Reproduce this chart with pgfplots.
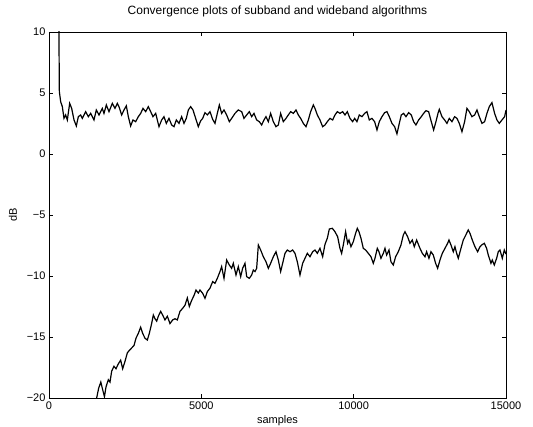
\documentclass[border=0pt]{standalone}
\usepackage{pgfplots}
\pgfplotsset{compat=1.18}
\usepackage{fontspec}
\setmainfont{Liberation Sans}
\begin{document}
\begin{tikzpicture}
\useasboundingbox (-49bp,-29bp) rectangle (484bp,398bp);
\begin{axis}[
  at={(0,0)}, anchor=south west,
  scale only axis, width=457bp, height=366bp,
  xmin=0, xmax=15000, ymin=-20, ymax=10,
  scaled x ticks=false, scaled y ticks=false,
  xtick={0,5000,10000,15000},
  xticklabels={0,5000,10000,15000},
  ytick={-20,-15,-10,-5,0,5,10},
  yticklabels={−20,−15,−10,−5,0,5,10},
  tick align=inside, xtick pos=both, ytick pos=both,
  major tick length=4bp,
  tick style={black, line width=0.6bp},
  axis line style={black, line width=0.8bp},
  ticklabel style={font=\fontsize{11bp}{13bp}\selectfont},
  label style={font=\fontsize{11bp}{13bp}\selectfont},
  title={Convergence plots of subband and wideband algorithms},
  title style={font=\fontsize{12bp}{14bp}\selectfont, at={(0.5,1)}, anchor=base, yshift=12bp},
  xlabel={samples},
  xlabel style={at={(axis description cs:0.5,0)}, anchor=base, yshift=-25bp},
  ylabel={dB},
  ylabel style={at={(axis description cs:-0.079,0.5)}, anchor=center},
]
\addplot[black, line width=1.2bp] coordinates {
(0,25) (320,12) (340,5.11) (383,4.29) (438,3.88) (492,2.92) (547,3.20) (602,2.79)
(678,4.15) (744,3.74) (821,2.79) (897,2.30) (963,3.06) (1039,3.20) (1094,2.92)
(1203,3.47) (1291,3.06) (1368,3.33) (1477,2.79) (1553,3.61) (1641,3.20) (1750,3.74)
(1805,3.33) (1882,4.02) (1969,3.47) (2079,4.15) (2166,3.74) (2243,4.15) (2297,3.88)
(2385,3.20) (2462,3.61) (2538,3.95) (2604,3.06) (2680,2.30) (2757,2.79) (2844,2.65)
(2932,3.06) (3009,3.33) (3085,3.74) (3173,3.47) (3260,3.88) (3337,3.47) (3413,3.06)
(3501,3.33) (3610,2.24) (3698,2.79) (3774,3.06) (3851,2.51) (3938,2.92) (4026,2.38)
(4103,2.24) (4179,2.79) (4267,2.51) (4354,3.06) (4431,2.51) (4507,2.92) (4573,3.61)
(4650,3.88) (4726,3.61) (4814,2.92) (4901,2.24) (4978,2.72)
(5044,2.92) (5120,3.39) (5197,3.20) (5284,3.47) (5372,2.84) (5448,2.51) (5525,3.33)
(5591,4.02) (5667,3.33) (5744,3.61) (5831,3.20) (5919,2.65) (5995,2.92) (6105,3.33)
(6214,3.61) (6324,3.47) (6400,2.92) (6488,3.20) (6575,3.47) (6652,3.06) (6728,3.33)
(6816,2.79) (6903,2.65) (6980,2.38) (7056,2.79) (7122,3.06) (7199,2.65) (7275,3.33)
(7363,2.65) (7450,2.24) (7527,2.38) (7603,3.33) (7691,2.65) (7779,2.92) (7855,3.20)
(7932,3.47) (8019,3.33) (8107,3.61) (8183,3.20) (8260,2.92) (8347,2.51) (8435,2.24)
(8512,2.79) (8588,3.47) (8676,4.02) (8730,3.74) (8807,3.20) (8894,2.79) (8982,2.24)
(9059,2.38) (9135,2.65) (9223,2.92) (9310,2.79) (9387,3.20) (9463,3.47) (9551,3.33)
(9638,3.47) (9715,3.20) (9791,3.47) (9879,2.92) (9966,2.65)
(10032,2.92) (10108,2.65) (10185,3.20) (10272,3.06) (10360,3.33) (10436,3.47)
(10513,2.79) (10600,2.92) (10688,2.65) (10765,1.97) (10841,2.65) (10929,3.06)
(11016,3.39) (11093,3.47) (11169,3.06) (11257,2.51) (11344,2.24) (11421,1.65)
(11498,2.51) (11563,3.20) (11640,3.33) (11716,3.06) (11804,3.39) (11891,3.20)
(11968,2.65) (12044,2.38) (12132,2.79) (12220,3.06) (12296,3.33) (12373,3.55)
(12460,3.47) (12548,2.65) (12624,1.97) (12701,2.65) (12767,3.33) (12810,3.66)
(12898,3.06) (12985,2.79) (13062,2.51) (13138,2.92) (13226,2.65) (13313,3.06)
(13390,2.92) (13467,2.51) (13554,1.83) (13642,2.65) (13718,3.74) (13795,3.47)
(13882,3.06) (13970,3.20) (14047,3.61) (14123,3.06) (14211,2.51) (14298,2.65)
(14375,3.33) (14451,3.88) (14539,4.21) (14626,3.33) (14703,2.79) (14780,2.51)
(14867,2.79) (14955,3.06) (15000,3.6)
};
\addplot[black, line width=1.2bp] coordinates {
(1480,-20.6) (1564,-20.0) (1630,-19.2) (1700,-18.7) (1760,-19.3) (1820,-19.9)
(1870,-19.1) (1947,-18.5) (2002,-18.7) (2057,-17.8) (2133,-17.4) (2199,-17.6)
(2276,-17.2) (2352,-16.9) (2418,-17.6) (2494,-17.0) (2571,-16.3) (2637,-16.1)
(2713,-15.9) (2790,-15.7) (2855,-15.1) (2932,-14.7) (3008,-14.2) (3074,-14.7)
(3151,-15.1) (3227,-15.25) (3293,-14.7) (3369,-13.9) (3424,-13.2) (3479,-13.5)
(3534,-13.7) (3588,-13.3) (3665,-12.9) (3730,-13.2) (3807,-13.6) (3884,-13.3)
(3971,-13.9) (4059,-13.6) (4135,-13.5) (4212,-13.6) (4299,-12.9) (4387,-12.65)
(4463,-12.4) (4540,-11.8) (4606,-12.5) (4682,-12.0) (4759,-11.6) (4825,-11.15)
(4901,-11.4) (4956,-11.15) (5044,-11.42) (5120,-11.83) (5197,-11.28) (5284,-11.0)
(5372,-10.46) (5448,-10.6) (5525,-10.19) (5612,-9.64) (5667,-9.23) (5744,-10.19)
(5831,-8.69) (5919,-9.10) (5995,-9.37) (6050,-8.96) (6138,-9.92) (6214,-9.23)
(6291,-10.05) (6356,-9.37) (6433,-8.96) (6488,-10.05) (6575,-10.19) (6652,-9.92)
(6706,-9.51) (6761,-9.64) (6816,-9.37) (6871,-7.46) (6947,-7.87) (7035,-8.42)
(7122,-8.83) (7199,-9.37) (7275,-8.96) (7363,-8.42) (7450,-8.01) (7527,-8.69)
(7603,-9.64) (7669,-8.96) (7746,-8.14) (7822,-7.87) (7910,-8.01) (7997,-7.87)
(8074,-8.14) (8150,-8.83) (8238,-9.92) (8326,-8.96) (8402,-8.55) (8479,-8.14)
(8566,-8.42) (8654,-8.01) (8730,-7.87) (8807,-8.14) (8894,-7.73) (8982,-8.42)
(9059,-7.40) (9135,-6.91) (9201,-6.15) (9299,-6.09) (9386,-6.37) (9474,-6.78)
(9550,-7.73) (9605,-8.14) (9660,-7.46) (9736,-6.37) (9802,-7.32) (9846,-7.05)
(9911,-7.60) (9988,-7.19) (10064,-6.50) (10119,-6.09) (10174,-6.37) (10240,-6.91)
(10316,-7.73) (10393,-7.87) (10480,-8.14) (10568,-8.42) (10644,-8.96) (10699,-8.55)
(10776,-7.73) (10830,-8.01) (10896,-8.55) (10973,-8.14) (11027,-7.73) (11082,-8.28)
(11159,-7.87) (11224,-8.83) (11301,-9.10) (11377,-8.42) (11465,-8.01) (11552,-7.46)
(11629,-6.64) (11684,-6.37) (11771,-6.78) (11848,-7.32) (11924,-7.05) (11990,-7.60)
(12067,-7.05) (12176,-7.73) (12253,-8.14) (12340,-8.42) (12395,-8.01) (12471,-8.55)
(12537,-8.01) (12614,-8.28) (12690,-8.96) (12756,-9.37) (12833,-8.69) (12909,-8.14)
(12997,-7.73) (13084,-7.32) (13128,-7.05) (13194,-7.46) (13270,-8.01) (13325,-7.60)
(13380,-8.14) (13434,-8.55) (13522,-7.73) (13598,-7.05) (13653,-6.78) (13708,-6.50)
(13762,-6.23) (13817,-6.50) (13894,-7.05) (13981,-7.60) (14069,-8.01) (14145,-7.60)
(14200,-7.46) (14288,-7.32) (14364,-7.73) (14419,-8.28) (14506,-8.96) (14550,-8.69)
(14616,-9.10) (14692,-8.55) (14747,-8.01) (14802,-7.87) (14879,-8.55) (14944,-7.87)
(15000,-8.2)
};
\end{axis}
\end{tikzpicture}
\end{document}
